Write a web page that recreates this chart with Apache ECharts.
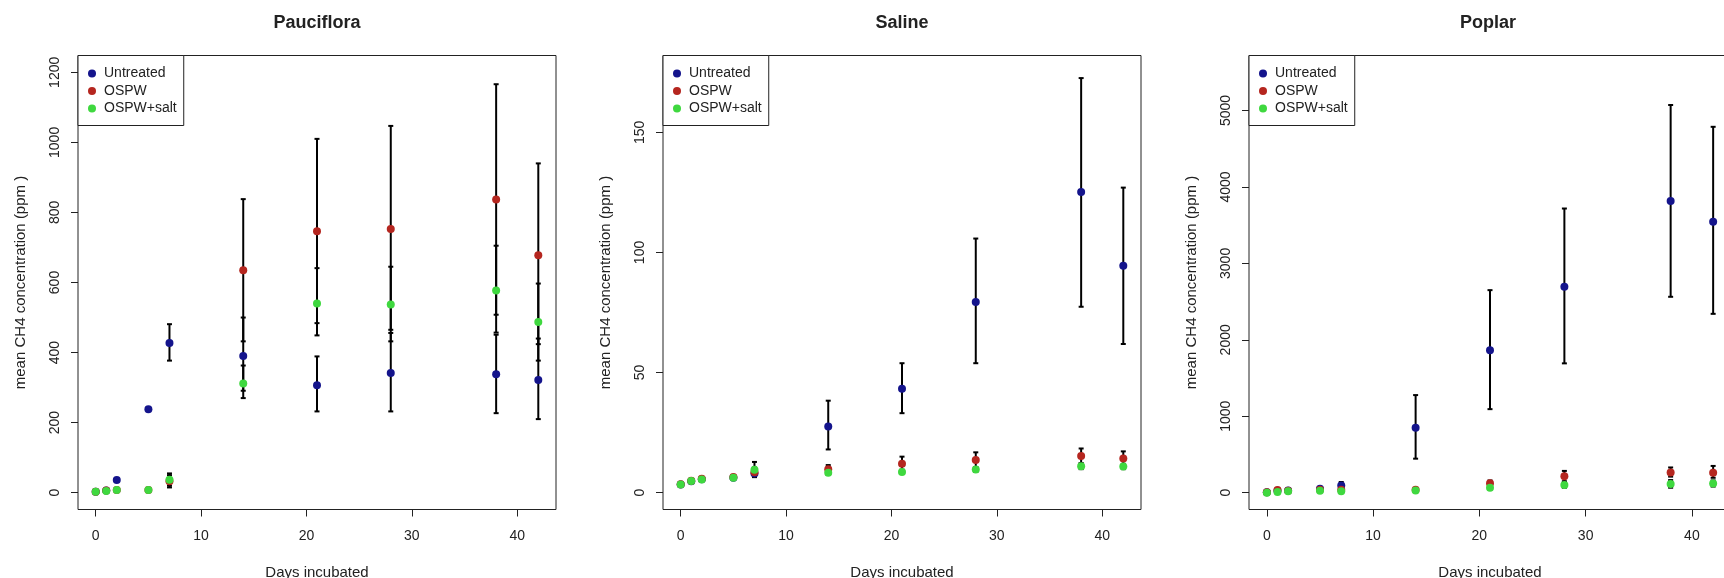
<!DOCTYPE html>
<html style="height: 100%">
  <head>
    <meta charset="utf-8" />
  </head>
  <body style="height: 100%; margin: 0; background: #fff">
    <div id="container" style="width: 1724px; height: 578px"></div>

    <script src="https://cdn.jsdelivr.net/npm/echarts@6/dist/echarts.min.js"></script>
    <script type="text/javascript">
      // sampling days
      var days = [0, 1, 2, 5, 7, 14, 21, 28, 38, 42];
      var xTicks = [0, 10, 20, 30, 40];

      // Pauciflora
      var pauTicks = [0, 200, 400, 600, 800, 1000, 1200];
      var pauUntreated = [3, 6, 36, 238, 427, 390, 307, 342, 338, 322];
      var pauUntreatedLo = [1, 4, 31, 233, 377, 291, 232, 232, 227, 210];
      var pauUntreatedHi = [5, 8, 41, 243, 481, 500, 389, 456, 451, 440];
      var pauOspw = [3, 6, 8, 8, 33, 635, 746, 753, 837, 678];
      var pauOspwLo = [1, 4, 5, 5, 15, 432, 484, 465, 508, 424];
      var pauOspwHi = [5, 8, 11, 11, 50, 838, 1010, 1047, 1166, 940];
      var pauSalt = [3, 5, 8, 8, 37, 312, 540, 537, 577, 487];
      var pauSaltLo = [1, 3, 5, 5, 20, 270, 449, 432, 457, 377];
      var pauSaltHi = [5, 7, 11, 11, 55, 363, 641, 645, 705, 597];

      // Saline
      var salTicks = [0, 50, 100, 150];
      var salUntreated = [3.4, 4.8, 5.6, 6.2, 8, 27.6, 43.3, 79.4, 125.2, 94.5];
      var salUntreatedLo = [3.0, 4.4, 5.0, 5.6, 6.5, 18.0, 33.1, 53.9, 77.4, 61.9];
      var salUntreatedHi = [3.8, 5.2, 6.2, 6.8, 10, 38.3, 53.9, 105.8, 172.6, 127];
      var salOspw = [3.5, 5.0, 5.8, 6.5, 8.5, 9.8, 12.0, 13.6, 15.3, 14.2];
      var salOspwLo = [3.2, 4.6, 5.2, 5.9, 6.5, 8.0, 9.2, 10.6, 12.2, 11.2];
      var salOspwHi = [3.8, 5.4, 6.4, 7.1, 10.5, 11.5, 15.0, 16.8, 18.4, 17.2];
      var salSalt = [3.4, 4.9, 5.5, 6.2, 9.5, 8.3, 8.6, 9.6, 11.0, 10.9];
      var salSaltLo = [3.1, 4.5, 5.0, 5.7, 7.0, 7.4, 7.8, 8.6, 9.8, 9.8];
      var salSaltHi = [3.7, 5.3, 6.0, 6.7, 12.8, 9.2, 9.6, 10.6, 12.2, 12.0];

      // Poplar
      var popTicks = [0, 1000, 2000, 3000, 4000, 5000];
      var popUntreated = [5, 25, 30, 50, 95, 850, 1862, 2695, 3815, 3545];
      var popUntreatedLo = [0, 15, 20, 35, 55, 445, 1093, 1692, 2563, 2340];
      var popUntreatedHi = [10, 35, 40, 65, 140, 1277, 2650, 3718, 5072, 4787];
      var popOspw = [5, 35, 25, 40, 40, 40, 125, 215, 265, 260];
      var popOspwLo = [0, 20, 15, 25, 25, 25, 90, 150, 210, 195];
      var popOspwHi = [10, 50, 35, 55, 55, 55, 160, 285, 330, 350];
      var popSalt = [0, 10, 20, 25, 20, 30, 65, 100, 115, 120];
      var popSaltLo = [-5, 0, 10, 15, 10, 20, 40, 65, 65, 80];
      var popSaltHi = [5, 20, 30, 35, 30, 40, 90, 135, 165, 160];

      var treatments = ["Untreated", "OSPW", "OSPW+salt"];
      var colors = ["#14148c", "#b5261f", "#3fd83f"];
      var ink = "#222";
      var font = "Liberation Sans";

      var panels = [
        {
          title: "Pauciflora", left: 78, width: 478, yMin: -48, yMax: 1248, yTicks: pauTicks,
          sets: [
            [pauUntreated, pauUntreatedLo, pauUntreatedHi],
            [pauOspw, pauOspwLo, pauOspwHi],
            [pauSalt, pauSaltLo, pauSaltHi],
          ],
        },
        {
          title: "Saline", left: 663, width: 478, yMin: -7, yMax: 182, yTicks: salTicks,
          sets: [
            [salUntreated, salUntreatedLo, salUntreatedHi],
            [salOspw, salOspwLo, salOspwHi],
            [salSalt, salSaltLo, salSaltHi],
          ],
        },
        {
          title: "Poplar", left: 1249, width: 482, yMin: -220, yMax: 5720, yTicks: popTicks,
          sets: [
            [popUntreated, popUntreatedLo, popUntreatedHi],
            [popOspw, popOspwLo, popOspwHi],
            [popSalt, popSaltLo, popSaltHi],
          ],
        },
      ];

      function errorBar(params, api) {
        var top = api.coord([api.value(0), api.value(2)]);
        var bot = api.coord([api.value(0), api.value(1)]);
        var w = 2.5;
        var st = { stroke: "#000", lineWidth: 2 };
        return {
          type: "group",
          children: [
            { type: "line", shape: { x1: top[0], y1: top[1], x2: bot[0], y2: bot[1] }, style: st },
            { type: "line", shape: { x1: top[0] - w, y1: top[1], x2: top[0] + w, y2: top[1] }, style: st },
            { type: "line", shape: { x1: bot[0] - w, y1: bot[1], x2: bot[0] + w, y2: bot[1] }, style: st },
          ],
        };
      }

      function plain(v) {
        return String(v);
      }

      var option = {
        backgroundColor: "#fff",
        animation: false,
        textStyle: { fontFamily: font },
        title: [], grid: [], xAxis: [], yAxis: [], legend: [], series: [],
      };

      panels.forEach(function (p, i) {
        option.title.push({
          text: p.title, left: p.left + 239, top: 14, textAlign: "center", padding: 0,
          textStyle: { fontSize: 18, fontWeight: "bold", color: ink, fontFamily: font },
        });
        option.grid.push({
          left: p.left, top: 55.5, width: p.width, height: 454,
          outerBoundsMode: "none", containLabel: false,
          show: true, borderColor: ink, borderWidth: 1,
        });
        option.xAxis.push({
          gridIndex: i, type: "value", min: -1.68, max: 43.68,
          axisLine: { show: false, onZero: false },
          axisTick: { show: true, length: 7, customValues: xTicks, lineStyle: { color: ink } },
          axisLabel: { customValues: xTicks, formatter: plain, margin: 19.5, fontSize: 14, color: ink, fontFamily: font },
          splitLine: { show: false },
          name: "Days incubated", nameLocation: "middle", nameGap: 55.5,
          nameTextStyle: { fontSize: 15, color: ink, fontFamily: font },
        });
        option.yAxis.push({
          gridIndex: i, type: "value", min: p.yMin, max: p.yMax,
          axisLine: { show: false, onZero: false },
          axisTick: { show: true, length: 7, customValues: p.yTicks, lineStyle: { color: ink } },
          axisLabel: { customValues: p.yTicks, formatter: plain, rotate: 90, margin: 16, fontSize: 14, color: ink, fontFamily: font },
          splitLine: { show: false },
          name: "mean CH4 concentration (ppm )", nameLocation: "middle", nameGap: 50,
          nameTextStyle: { fontSize: 15, color: ink, fontFamily: font },
        });
        option.legend.push({
          left: p.left, top: 55.5, orient: "vertical", data: treatments,
          icon: "circle", itemWidth: 8, itemHeight: 8, itemGap: 3.5,
          padding: [11, 7, 10, 10], borderColor: ink, borderWidth: 1,
          backgroundColor: "#fff", selectedMode: false,
          textStyle: { fontSize: 14, color: ink, fontFamily: font, padding: [0, 0, 0, 3] },
        });
        p.sets.forEach(function (s, k) {
          option.series.push({
            name: treatments[k] + " SE " + i, type: "custom",
            xAxisIndex: i, yAxisIndex: i,
            renderItem: errorBar,
            encode: { x: 0, y: [1, 2] },
            data: days.map(function (d, j) { return [d, s[1][j], s[2][j]]; }),
          });
          option.series.push({
            name: treatments[k], type: "scatter",
            xAxisIndex: i, yAxisIndex: i,
            symbolSize: 8,
            itemStyle: { color: colors[k], opacity: 1 },
            data: days.map(function (d, j) { return [d, s[0][j]]; }),
          });
        });
      });

      var myChart = echarts.init(document.getElementById("container"));
      myChart.setOption(option);
    </script>
  </body>
</html>
